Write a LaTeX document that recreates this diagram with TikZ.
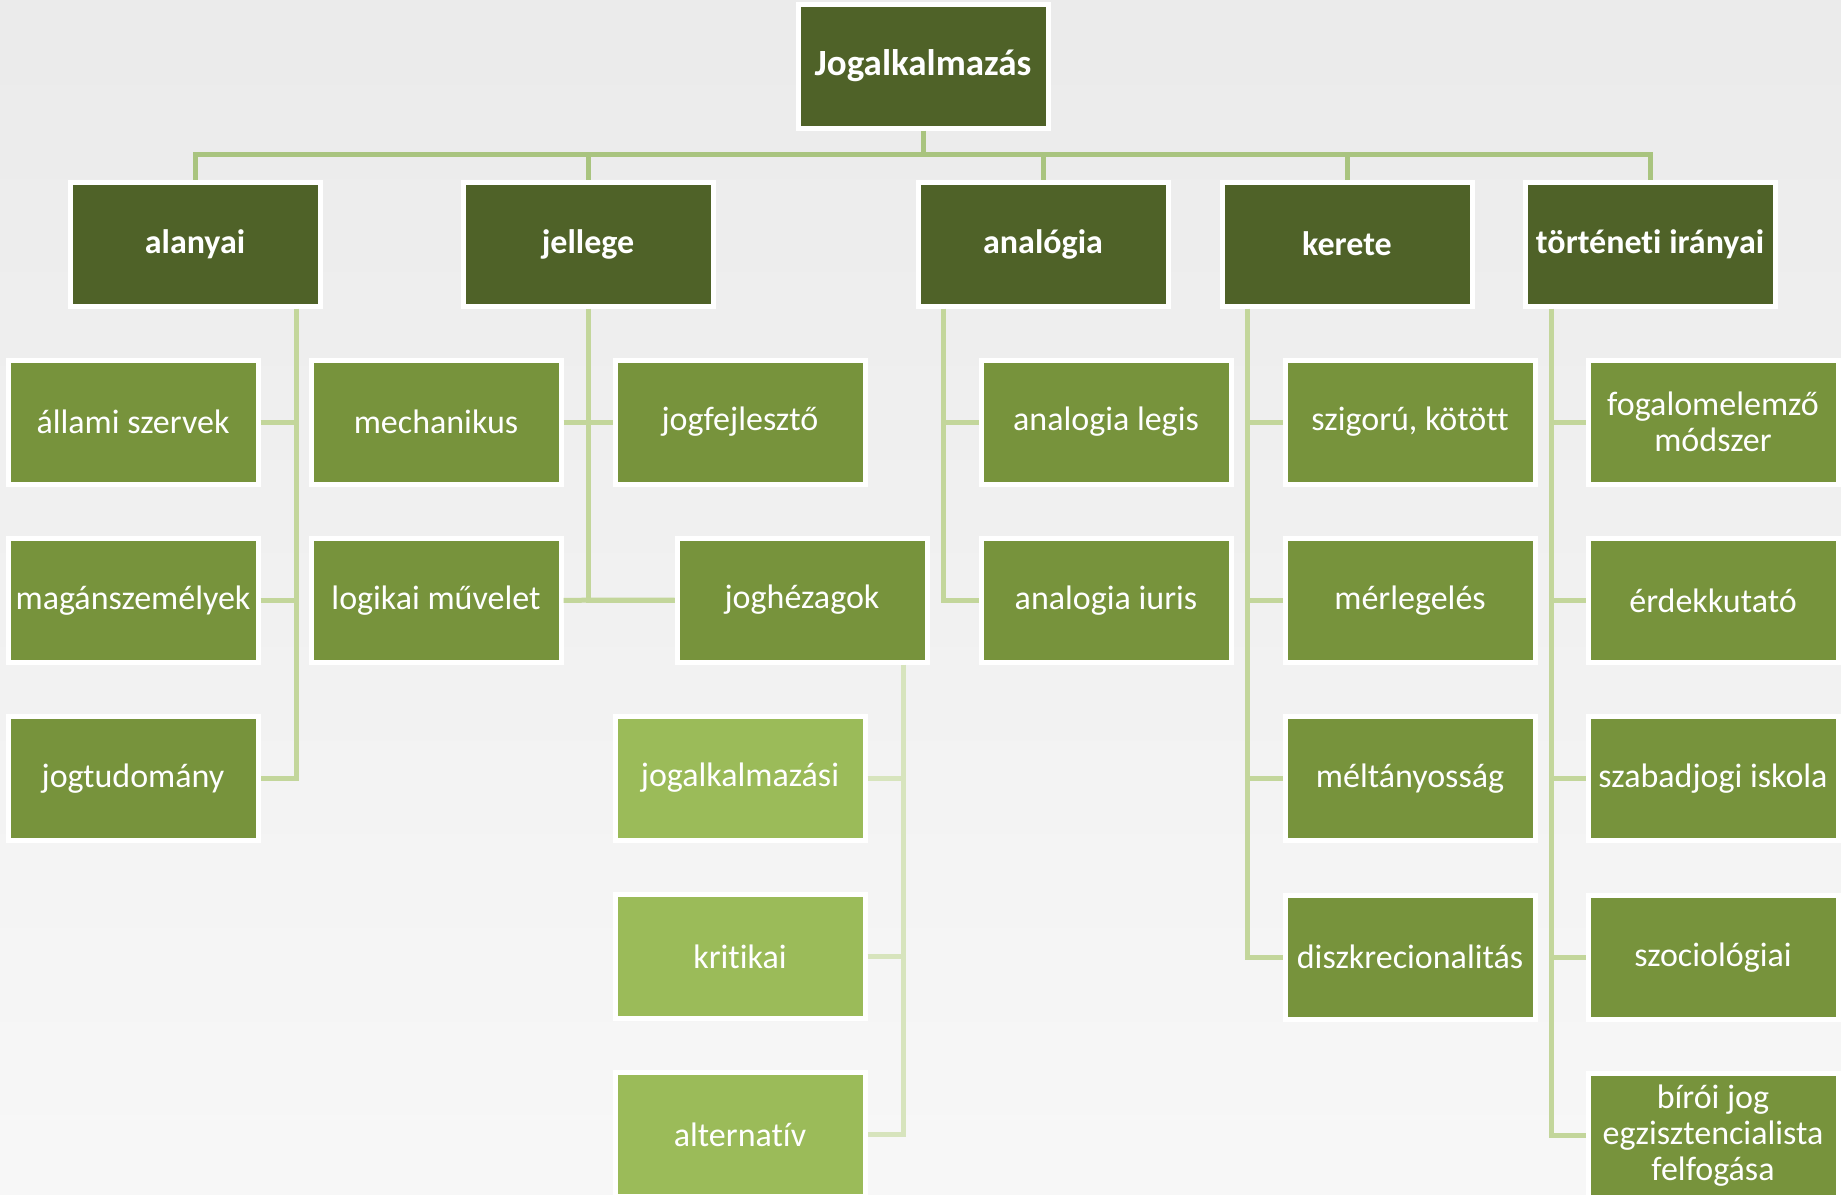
\documentclass[tikz,border=0pt]{standalone}
\usepackage{fontspec}
\setmainfont{Carlito}[Ligatures=NoCommon]
\usetikzlibrary{positioning}
\definecolor{dkgreen}{HTML}{4F6228}
\definecolor{mdgreen}{HTML}{77933C}
\definecolor{ltgreen}{HTML}{9BBB59}
\definecolor{busgreen}{HTML}{A9C47F}
\definecolor{stemgreen}{HTML}{C3D69B}
\definecolor{palegreen}{HTML}{D7E4BD}

\begin{document}
\begin{tikzpicture}[x=0.5pt,y=-0.5pt,node distance=89.2pt,line width=2.5pt,
  box/.style={rectangle,draw=white,minimum width=125pt,minimum height=62pt,inner sep=1pt,text=white,align=center,font=\fontsize{17}{18}\selectfont},
  rootbox/.style={box,fill=dkgreen,font=\fontsize{18.5}{20}\selectfont\bfseries},
  headbox/.style={box,fill=dkgreen,font=\fontsize{17}{18}\selectfont\bfseries},
  leafbox/.style={box,fill=mdgreen},
  palebox/.style={box,fill=ltgreen},
  busline/.style={draw=busgreen},
  stemline/.style={draw=stemgreen},
  paleline/.style={draw=palegreen}]
\useasboundingbox (0,0) rectangle (1841,1194);
\shade[top color=black!8,middle color=black!1,bottom color=black!3] (0,0) rectangle (1841,1194);

\node[rootbox](r) at (923,66){Jogalkalmazás};
\node[headbox](al) at (195,244){alanyai};
\node[headbox](je) at (588,244){jellege};
\node[headbox](an) at (1043,244){analógia};
\node[headbox](ke) at (1347,244){kerete};
\node[headbox](tj) at (1650,244){történeti irányai};

\node[leafbox](al1) at (133,422){állami szervek};
\node[leafbox](al2)[below of=al1]{magánszemélyek};
\node[leafbox](al3)[below of=al2]{jogtudomány};
\node[leafbox](je1) at (436,422){mechanikus};
\node[leafbox](je2)[below of=je1]{logikai művelet};
\node[leafbox](je3) at (740,422){jogfejlesztő};
\node[leafbox](je4) at (802,600){joghézagok};
\node[palebox](jh1) at (740,778){jogalkalmazási};
\node[palebox](jh2)[below of=jh1]{kritikai};
\node[palebox](jh3)[below of=jh2]{alternatív};
\node[leafbox](an1) at (1106,422){analogia legis};
\node[leafbox](an2)[below of=an1]{analogia iuris};
\node[leafbox](ke1) at (1410,422){szigorú, kötött};
\node[leafbox](ke2)[below of=ke1]{mérlegelés};
\node[leafbox](ke3)[below of=ke2]{méltányosság};
\node[leafbox](ke4)[below of=ke3]{diszkrecionalitás};
\node[leafbox](tj1) at (1713,422){fogalomelemző\\módszer};
\node[leafbox](tj2)[below of=tj1]{érdekkutató};
\node[leafbox](tj3)[below of=tj2]{szabadjogi iskola};
\node[leafbox](tj4)[below of=tj3]{szociológiai};
\node[leafbox](tj5)[below of=tj4]{bírói jog\\egzisztencialista\\felfogása};

% top level
\coordinate (bus) at (923,154);
\draw[busline] (r) -- (r.south |- bus);
\draw[busline] (al) -- (al.north |- bus) -| (tj);
\draw[busline] (je) -- (je.north |- bus);
\draw[busline] (an) -- (an.north |- bus);
\draw[busline] (ke) -- (ke.north |- bus);

% stems
\coordinate (sal) at (296,0);
\coordinate (sjh) at (903,0);
\coordinate (san) at (943,0);
\coordinate (ske) at (1247,0);
\coordinate (stj) at (1551,0);

\draw[stemline] (al.south -| sal) |- (al3);
\draw[stemline] (al1) -- (al1 -| sal); \draw[stemline] (al2) -- (al2 -| sal);

\draw[stemline] (je) |- (je4);
\draw[stemline] (je1) -- (je3); \draw[stemline] (je2) -- (je4);

\draw[paleline] (je4.south -| sjh) |- (jh3);
\draw[paleline] (jh1) -- (jh1 -| sjh); \draw[paleline] (jh2) -- (jh2 -| sjh);

\draw[stemline] (an.south -| san) |- (an2);
\draw[stemline] (an1) -- (an1 -| san);

\draw[stemline] (ke.south -| ske) |- (ke4);
\draw[stemline] (ke1) -- (ke1 -| ske); \draw[stemline] (ke2) -- (ke2 -| ske);
\draw[stemline] (ke3) -- (ke3 -| ske);

\draw[stemline] (tj.south -| stj) |- (tj5);
\draw[stemline] (tj1) -- (tj1 -| stj); \draw[stemline] (tj2) -- (tj2 -| stj);
\draw[stemline] (tj3) -- (tj3 -| stj); \draw[stemline] (tj4) -- (tj4 -| stj);
\end{tikzpicture}
\end{document}
